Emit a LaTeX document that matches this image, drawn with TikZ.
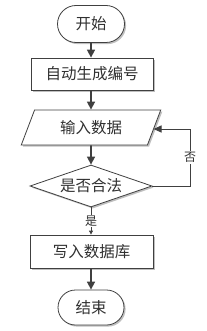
\documentclass[tikz,border=0pt]{standalone}
\usepackage{fontspec}
\setmainfont{Noto Sans CJK SC}
\usetikzlibrary{shapes.geometric,shapes.misc,shadows,arrows.meta}
\definecolor{ln}{HTML}{404040}
\definecolor{tx}{HTML}{303030}
\begin{document}
\begin{tikzpicture}[x=1pt,y=-1pt,
  base/.style={draw=ln, line width=0.8pt, fill=white, text=tx, font=\fontsize{15.5}{17}\selectfont, inner sep=0pt,
    drop shadow={shadow xshift=1.6pt, shadow yshift=-1.6pt, fill=black!25, opacity=1}},
  term/.style={base, rounded rectangle, minimum width=67pt, minimum height=37pt},
  procbox/.style={base, rectangle, minimum width=122pt, minimum height=32pt},
  iobox/.style={base, trapezium, trapezium left angle=63, trapezium right angle=117, trapezium stretches=true, minimum width=140pt, minimum height=35pt},
  decbox/.style={base, diamond, aspect=2.9, minimum width=122pt, minimum height=42pt},
  arr/.style={draw=ln, line width=1.6pt, -{Triangle[width=8pt,length=8pt]}},
  thin/.style={draw=ln, line width=0.9pt},
  lbl/.style={fill=white, text=tx, inner sep=1pt, font=\fontsize{12}{13}\selectfont}
]
\useasboundingbox (0,0) rectangle (206,331);
\node[term] (start) at (91,24) {开始};
\node[procbox] (gen) at (92,74) {自动生成编号};
\node[iobox] (inp) at (91,127.5) {输入数据};
\node[decbox] (dec) at (91,186) {是否合法};
\node[procbox, minimum width=123pt, minimum height=33pt] (write) at (91.5,251.5) {写入数据库};
\node[term, minimum width=66pt, minimum height=35pt] (end) at (91,307.5) {结束};

\draw[arr] (start.south) -- (gen.north -| start.south);
\draw[arr] (gen.south -| inp.south) -- (inp.south |- inp.north);
\draw[arr] (inp.south) -- (dec.north);
\draw[thin, -{Triangle[width=4pt,length=4pt]}] (dec.south) -- node[lbl] {是} (write.north -| dec.south);
\draw[arr] (write.south -| end.north) -- (end.north);
\coordinate (loop) at (190,129);
\draw[thin, -{Triangle[width=7pt,length=8pt]}] (dec.east) -| (loop) node[lbl, pos=0.75] {否} -- ([xshift=-1pt]inp.east |- loop);
\end{tikzpicture}
\end{document}
